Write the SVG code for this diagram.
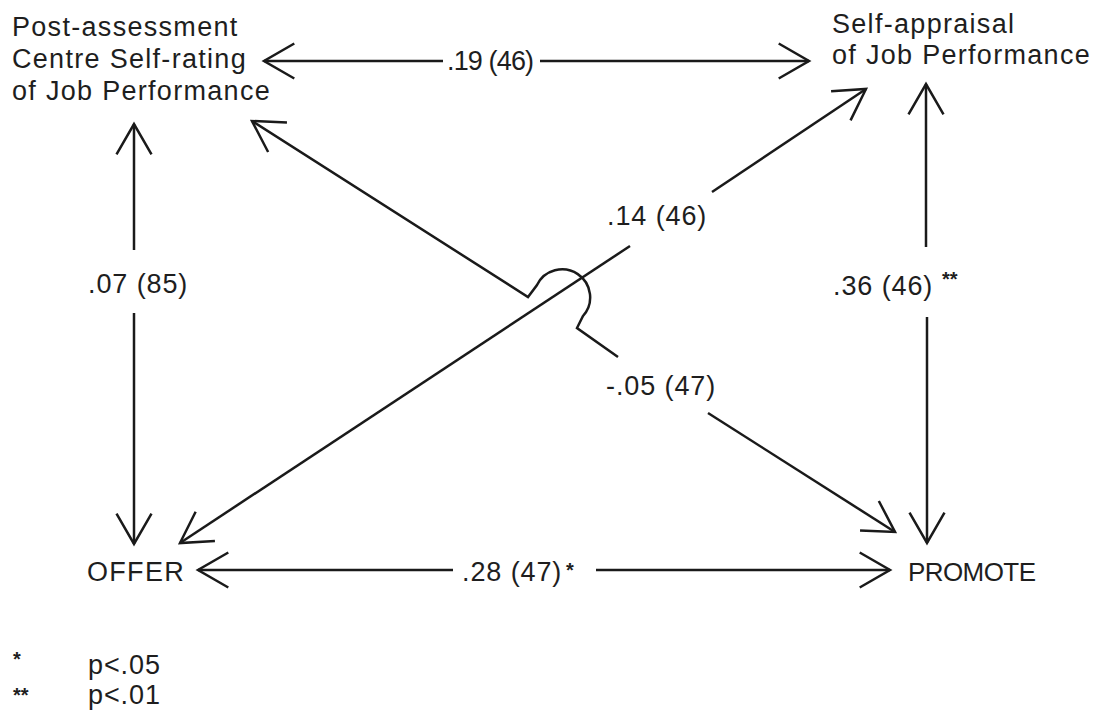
<svg xmlns="http://www.w3.org/2000/svg" width="1093" height="711" viewBox="0 0 1093 711">
  <style>
    text { font-family: "Liberation Sans", Arial, Helvetica, sans-serif; fill: #1e1e1e; }
    .lbl { font-size: 27px; letter-spacing: 0.9px; }
    .node { font-size: 27px; letter-spacing: 1.3px; }
    .star { font-size: 20px; font-weight: bold; }
    .edge { fill: none; stroke: #1a1a1a; stroke-width: 2.5; stroke-linejoin: miter; }
    .head { marker-end: url(#head); }
  </style>
  <defs>
    <!-- open V arrowhead, tip at the path end -->
    <marker id="head" markerUnits="userSpaceOnUse" orient="auto-start-reverse" refX="0" refY="0" markerWidth="40" markerHeight="40" overflow="visible">
      <path d="M-30.3,-17.5 L0,0 L-30.3,17.5" fill="none" stroke="#1a1a1a" stroke-width="2.5"/>
    </marker>
  </defs>

  <rect width="1093" height="711" fill="#fff"/>

  <!-- connectors -->
  <g id="connectors">
    <!-- self-rating <-> self-appraisal -->
    <path class="edge head" d="M443,61 L264,61"/>
    <path class="edge head" d="M540,61 L809,61"/>
    <!-- self-rating <-> offer -->
    <path class="edge head" d="M134,250 L134,124"/>
    <path class="edge head" d="M134,313 L134,544"/>
    <!-- self-appraisal <-> promote -->
    <path class="edge head" d="M926,247 L926,84"/>
    <path class="edge head" d="M927,317 L927,543"/>
    <!-- offer <-> promote -->
    <path class="edge head" d="M453,570 L198,570"/>
    <path class="edge head" d="M596,570 L890,570"/>
    <!-- offer <-> self-appraisal -->
    <path class="edge head" d="M712,192 L866,89"/>
    <path class="edge head" d="M630,246 L180,543"/>
    <!-- self-rating <-> promote, hopping over the crossing line -->
    <path class="edge" marker-start="url(#head)" d="M252,121 L528,297 L537,285 A28,28 0 1 1 583,316 L577,328 L618,357"/>
    <path class="edge head" d="M708,413 L895,532"/>
  </g>

  <!-- edge labels -->
  <g id="labels">
    <text class="lbl" x="447" y="70" textLength="88" lengthAdjust="spacing">.19 (46)</text>
    <text class="lbl" x="88" y="293">.07 (85)</text>
    <text class="lbl" x="607" y="225">.14 (46)</text>
    <text class="lbl" x="833" y="295">.36 (46)</text>
    <text class="star" x="942" y="286">**</text>
    <text class="lbl" x="606" y="395">-.05 (47)</text>
    <text class="lbl" x="462" y="581">.28 (47)</text>
    <text class="star" x="566" y="577">*</text>
  </g>

  <g id="node-selfrating">
    <text class="node" x="12" y="36">Post-assessment</text>
    <text class="node" x="12" y="68">Centre Self-rating</text>
    <text class="node" x="12" y="100">of Job Performance</text>
  </g>

  <g id="node-selfappraisal">
    <text class="node" x="832" y="33">Self-appraisal</text>
    <text class="node" x="832" y="64">of Job Performance</text>
  </g>

  <g id="node-offer">
    <text class="node" x="87" y="581">OFFER</text>
  </g>

  <g id="node-promote">
    <text x="908" y="581" font-size="26" textLength="128" lengthAdjust="spacing">PROMOTE</text>
  </g>

  <!-- significance key -->
  <g id="key">
    <text class="star" x="13" y="666">*</text>
    <text class="lbl" x="88" y="674">p&lt;.05</text>
    <text class="star" x="13" y="702">**</text>
    <text class="lbl" x="88" y="704">p&lt;.01</text>
  </g>
</svg>
